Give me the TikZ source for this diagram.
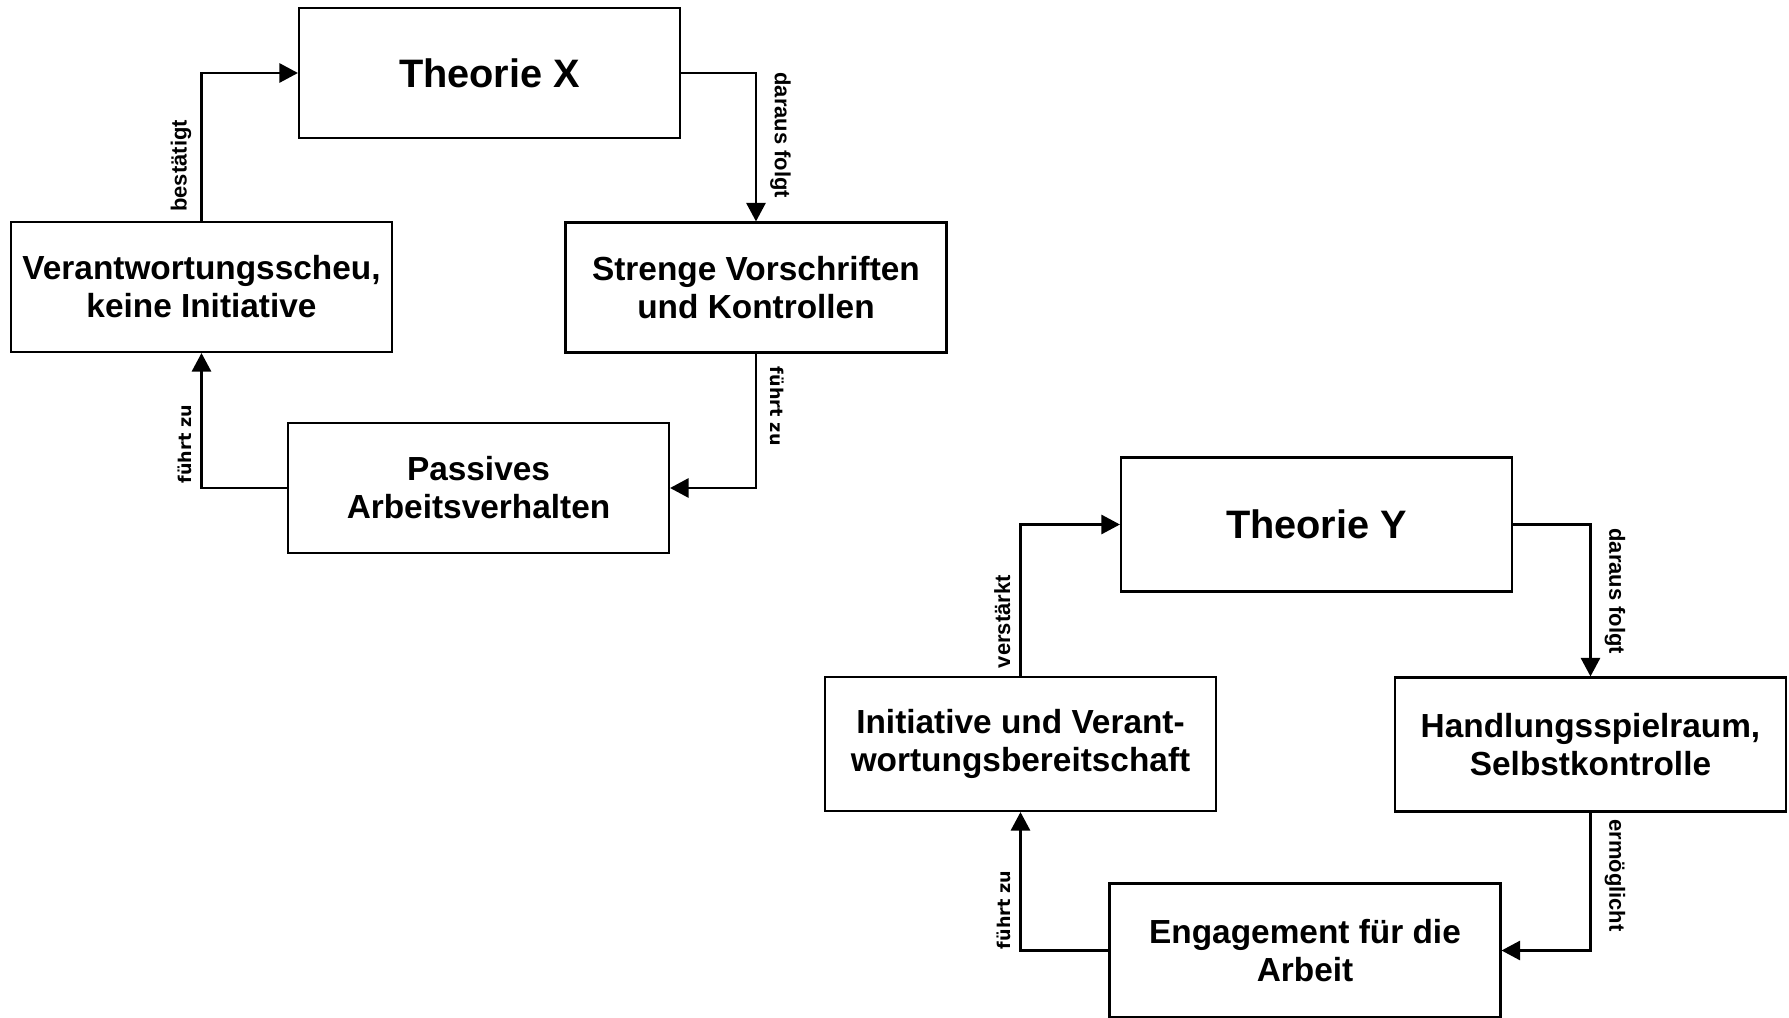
\documentclass[tikz,border=0pt]{standalone}
\usepackage{fontspec}
\setmainfont{Liberation Sans}
\newfontfamily\dejavu{DejaVu Sans}
\usetikzlibrary{arrows.meta, positioning}

\begin{document}
\begin{tikzpicture}[
    >={Triangle[length=10.5pt, width=10.8pt]},
    box/.style={draw, line width=1.2pt, minimum width=7.62cm, minimum height=2.6cm, align=center, font=\bfseries\fontsize{19}{21.6}\selectfont},
    boxY/.style={box, minimum width=7.82cm, minimum height=2.68cm},
    titlebox/.style={font=\bfseries\fontsize{22.6}{26}\selectfont},
    flow/.style={->, line width=1.5pt},
    labup/.style={rotate=90, anchor=south, inner xsep=0pt, inner ysep=5pt, font=\bfseries\fontsize{12.5}{14}\selectfont},
    labdown/.style={rotate=-90, anchor=south, inner xsep=0pt, inner ysep=7.4pt, font=\bfseries\fontsize{12.5}{14}\selectfont},
    dv/.style={font=\dejavu\bfseries\fontsize{10}{12}\selectfont},
    on grid,
]
    \useasboundingbox (-9.79,1.46) rectangle (25.99,-18.9);

    % Theorie X
    \node[box, titlebox] (tx) {Theorie X};
    \node[box, below right=4.29cm and 5.33cm of tx] (strenge) {Strenge Vorschriften\\und Kontrollen};
    \node[box, below left=8.3cm and 0.22cm of tx] (passiv) {Passives\\Arbeitsverhalten};
    \node[box, below left=4.28cm and 5.76cm of tx] (scheu) {Verantwortungsscheu,\\keine Initiative};

    \draw[flow] (tx.east) -| node[labdown, pos=0.71] {daraus folgt} (strenge.north);
    \draw[flow] (strenge.south) |- node[labdown, dv, pos=0.196] {führt zu} (passiv.east);
    \draw[flow] (passiv.west) -| node[labup, dv, pos=0.663] {führt zu} (scheu.south);
    \draw[flow] (scheu.north) |- node[labup, pos=0.186] {bestätigt} (tx.west);

    % Theorie Y
    \node[boxY, titlebox, below right=9.03cm and 16.54cm of tx] (ty) {Theorie Y};
    \node[boxY, below right=4.4cm and 5.48cm of ty] (spielraum) {Handlungsspielraum,\\Selbstkontrolle};
    \node[boxY, below left=8.52cm and 0.23cm of ty] (engage) {Engagement für die\\Arbeit};
    \node[boxY, below left=4.39cm and 5.92cm of ty] (initiat) {Initiative und Verant-\\wortungsbereitschaft};

    \draw[flow] (ty.east) -| node[labdown, pos=0.72] {daraus folgt} (spielraum.north);
    \draw[flow] (spielraum.south) |- node[labdown, pos=0.228] {ermöglicht} (engage.east);
    \draw[flow] (engage.west) -| node[labup, dv, pos=0.647] {führt zu} (initiat.south);
    \draw[flow] (initiat.north) |- node[labup, pos=0.179] {verstärkt} (ty.west);
\end{tikzpicture}
\end{document}
